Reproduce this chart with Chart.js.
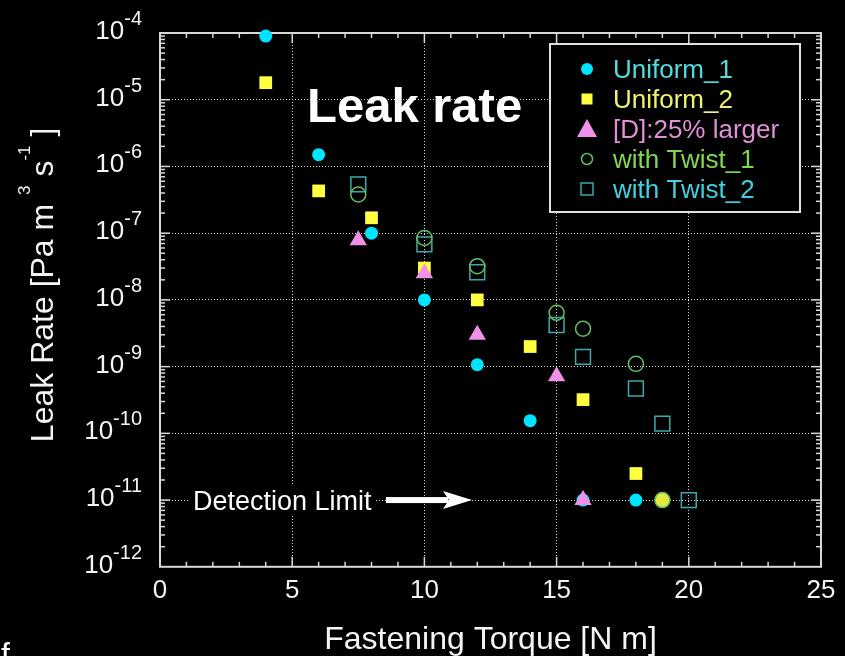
<!DOCTYPE html>
<html><head><meta charset="utf-8">
<script src="https://cdn.jsdelivr.net/npm/chart.js@4.4.1/dist/chart.umd.min.js"></script>
<style>html,body{margin:0;padding:0;background:#000;overflow:hidden}canvas{display:block}</style>
</head><body>
<canvas id="c" width="845" height="656"></canvas>
<script>
const FONT = "'Liberation Sans', Arial, Helvetica, sans-serif";

// ---- data ----
const uniform1X = [4, 6, 8, 10, 12, 14, 16, 18];
const uniform1Y = [9e-5, 1.5e-6, 1e-7, 1e-8, 1.07e-9, 1.55e-10, 1e-11, 1e-11];
const uniform2X = [4, 6, 8, 10, 12, 14, 16, 18];
const uniform2Y = [1.8e-5, 4.3e-7, 1.7e-7, 3e-8, 1e-8, 2e-9, 3.2e-10, 2.5e-11];
const largerX = [7.5, 10, 12, 15, 16];
const largerY = [7.8e-8, 2.5e-8, 3e-9, 7.2e-10, 1e-11];
const twist1X = [7.5, 10, 12, 15, 16, 18, 19];
const twist1Y = [3.8e-7, 8.5e-8, 3.2e-8, 6.4e-9, 3.7e-9, 1.1e-9, 1e-11];
const twist2X = [7.5, 10, 12, 15, 16, 18, 19, 20];
const twist2Y = [5.4e-7, 6.8e-8, 2.6e-8, 4.2e-9, 1.4e-9, 4.7e-10, 1.4e-10, 1e-11];

const seriesNames = ['Uniform_1', 'Uniform_2', '[D]:25% larger', 'with Twist_1', 'with Twist_2'];
const xTickValues = [0, 5, 10, 15, 20, 25];
const yExponents = [-4, -5, -6, -7, -8, -9, -10, -11, -12];
const detectionLimit = 1e-11;
const titleText = 'Leak rate';
const xTitle = 'Fastening Torque [N m]';

const toPts = (xs, ys) => xs.map((x, i) => ({x: x, y: ys[i]}));
const isDecade = v => { const l = Math.log10(v); return Math.abs(l - Math.round(l)) < 1e-6; };

const COL = {
  u1: '#00e5ff', u2: '#ffff40', d: '#f090e8', t1: '#64be64', t2: '#3caaaa'
};
const TXT = ['#50dcdc', '#f0f070', '#e090d8', '#80d850', '#40d0e0'];

const twist1Fill = twist1X.map((x, i) => (twist1Y[i] <= detectionLimit ? '#e6e640' : 'rgba(0,0,0,0)'));

const bgPlugin = {
  id: 'bg',
  beforeDraw(chart) {
    const ctx = chart.ctx;
    ctx.save(); ctx.fillStyle = '#000'; ctx.fillRect(0, 0, chart.width, chart.height); ctx.restore();
  },
  beforeDatasetsDraw(chart) {
    const ctx = chart.ctx, a = chart.chartArea, xs = chart.scales.x, ys = chart.scales.y;
    ctx.save();
    ctx.strokeStyle = '#d8d8d8';
    ctx.lineWidth = 1.5;
    const seg = (x1, y1, x2, y2) => { ctx.beginPath(); ctx.moveTo(x1, y1); ctx.lineTo(x2, y2); ctx.stroke(); };
    for (let v = 1; v < 25; v++) {
      const px = xs.getPixelForValue(v);
      const L = v % 5 === 0 ? 10 : 5;
      seg(px, a.bottom, px, a.bottom - L);
      seg(px, a.top, px, a.top + L);
    }
    for (let e = -12; e < -4; e++) {
      for (let k = 1; k < 10; k++) {
        if (e === -12 && k === 1) continue;
        const py = ys.getPixelForValue(k * Math.pow(10, e));
        const L = k === 1 ? 10 : 5;
        seg(a.left, py, a.left + L, py);
        seg(a.right, py, a.right - L, py);
      }
    }
    ctx.lineWidth = 2;
    ctx.strokeRect(a.left, a.top, a.right - a.left, a.bottom - a.top);
    ctx.restore();
  },
  afterDraw(chart) {
    const ctx = chart.ctx, a = chart.chartArea, xs = chart.scales.x, ys = chart.scales.y;
    ctx.save();
    // y tick labels with superscripts
    ctx.fillStyle = '#f4f4f4';
    ctx.textBaseline = 'alphabetic';
    const labelRight = a.left - 18;
    yExponents.forEach(e => {
      const py = ys.getPixelForValue(Math.pow(10, e));
      const es = String(e);
      ctx.font = '20px ' + FONT;
      const we = ctx.measureText(es).width;
      ctx.textAlign = 'left';
      ctx.fillText(es, labelRight - we, py - 8);
      ctx.font = '26px ' + FONT;
      ctx.textAlign = 'right';
      ctx.fillText('10', labelRight - we, py + 6);
    });
    // y title
    const segs = [
      {t: 'Leak Rate [Pa m ', s: false}, {t: '3', s: true}, {t: ' s', s: false}, {t: '-1', s: true}, {t: ' ]', s: false}
    ];
    ctx.save();
    ctx.translate(53, (a.top + a.bottom) / 2 - 15);
    ctx.rotate(-Math.PI / 2);
    let total = 0;
    segs.forEach(sg => { ctx.font = (sg.s ? '17px ' : '32px ') + FONT; sg.w = ctx.measureText(sg.t).width; total += sg.w; });
    let cx = -total / 2;
    ctx.textAlign = 'left';
    segs.forEach(sg => { ctx.font = (sg.s ? '17px ' : '32px ') + FONT; ctx.fillText(sg.t, cx, sg.s ? -23 : 0); cx += sg.w; });
    ctx.restore();

    // legend
    const lx = 550, ly = 44, lw = 250, lh = 168;
    ctx.fillStyle = '#000';
    ctx.fillRect(lx, ly, lw, lh);
    ctx.strokeStyle = '#e0e0e0'; ctx.lineWidth = 2;
    ctx.strokeRect(lx, ly, lw, lh);
    const rows = [69, 99, 129, 159, 189];
    const mx = 587;
    // markers
    ctx.fillStyle = COL.u1; ctx.beginPath(); ctx.arc(mx, rows[0], 6, 0, Math.PI * 2); ctx.fill();
    ctx.fillStyle = COL.u2; ctx.fillRect(mx - 5.5, rows[1] - 5.5, 11, 11);
    ctx.fillStyle = COL.d; ctx.beginPath(); ctx.moveTo(mx, rows[2] - 10); ctx.lineTo(mx + 10, rows[2] + 8); ctx.lineTo(mx - 10, rows[2] + 8); ctx.closePath(); ctx.fill();
    ctx.strokeStyle = COL.t1; ctx.lineWidth = 1.5; ctx.beginPath(); ctx.arc(mx, rows[3], 5.5, 0, Math.PI * 2); ctx.stroke();
    ctx.strokeStyle = COL.t2; ctx.strokeRect(mx - 6, rows[4] - 6, 12, 12);
    ctx.font = '26px ' + FONT; ctx.textAlign = 'left'; ctx.textBaseline = 'alphabetic';
    seriesNames.forEach((n, i) => { ctx.fillStyle = TXT[i]; ctx.fillText(n, 613, rows[i] + 9); });

    // big label
    ctx.fillStyle = '#ffffff';
    ctx.font = 'bold 49px ' + FONT;
    ctx.fillText(titleText, 307, 122);

    // detection limit annotation
    const dy = ys.getPixelForValue(detectionLimit);
    ctx.fillStyle = '#000';
    ctx.fillRect(190, dy - 15, 184, 30);
    ctx.fillStyle = '#ffffff';
    ctx.font = '27px ' + FONT;
    ctx.fillText('Detection Limit', 193, dy + 10);
    ctx.fillRect(386, dy - 3, 62, 6);
    ctx.beginPath(); ctx.moveTo(443, dy - 9); ctx.lineTo(472, dy); ctx.lineTo(443, dy + 9); ctx.lineTo(449, dy); ctx.closePath(); ctx.fill();

    // stray letter at the bottom-left edge
    ctx.font = '32px ' + FONT;
    ctx.fillText('f', 1, 665);
    ctx.restore();
  }
};

new Chart(document.getElementById('c'), {
  type: 'scatter',
  data: {
    datasets: [
      {label: seriesNames[2], data: toPts(largerX, largerY), pointStyle: 'triangle', pointRadius: 10,
       backgroundColor: COL.d, borderColor: COL.d, borderWidth: 0, order: 1, clip: false},
      {label: seriesNames[0], data: toPts(uniform1X, uniform1Y), pointStyle: 'circle', pointRadius: 6.5,
       backgroundColor: COL.u1, borderColor: COL.u1, borderWidth: 0, order: 2, clip: false},
      {label: seriesNames[1], data: toPts(uniform2X, uniform2Y), pointStyle: 'rect', pointRadius: 9,
       backgroundColor: COL.u2, borderColor: COL.u2, borderWidth: 0, order: 3, clip: false},
      {label: seriesNames[3], data: toPts(twist1X, twist1Y), pointStyle: 'circle', pointRadius: 7.5,
       backgroundColor: twist1Fill, pointBackgroundColor: twist1Fill, borderColor: COL.t1, borderWidth: 1.5, order: 0, clip: false},
      {label: seriesNames[4], data: toPts(twist2X, twist2Y), pointStyle: 'rect', pointRadius: 10.5,
       backgroundColor: 'rgba(0,0,0,0)', borderColor: COL.t2, borderWidth: 1.5, order: 0, clip: false}
    ]
  },
  options: {
    responsive: false, animation: false, devicePixelRatio: 1,
    layout: {padding: {left: 160, top: 33, right: 24, bottom: 0}},
    plugins: {legend: {display: false}, tooltip: {enabled: false}},
    elements: {point: {hoverRadius: 0}},
    scales: {
      x: {
        type: 'linear', min: 0, max: 25,
        afterBuildTicks: s => { s.ticks = xTickValues.map(v => ({value: v})); },
        ticks: {color: '#f4f4f4', font: {family: FONT, size: 26}, padding: 8, maxRotation: 0, autoSkip: false},
        grid: {color: c => (c.tick && c.tick.value > 0 && c.tick.value < 25) ? '#dcdcdc' : 'rgba(0,0,0,0)', lineWidth: 1, drawTicks: false},
        border: {display: false, dash: [1, 2]},
        title: {display: true, text: xTitle, color: '#f4f4f4', font: {family: FONT, size: 32, lineHeight: 1}, padding: {top: 10, bottom: 0}}
      },
      y: {
        type: 'logarithmic', min: 1e-12, max: 1e-4,
        ticks: {display: false},
        grid: {color: c => (c.tick && isDecade(c.tick.value) && c.tick.value > 1.5e-12 && c.tick.value < 0.7e-4) ? '#dcdcdc' : 'rgba(0,0,0,0)', lineWidth: 1, drawTicks: false},
        border: {display: false, dash: [1, 2]}
      }
    }
  },
  plugins: [bgPlugin]
});
</script>
</body></html>
